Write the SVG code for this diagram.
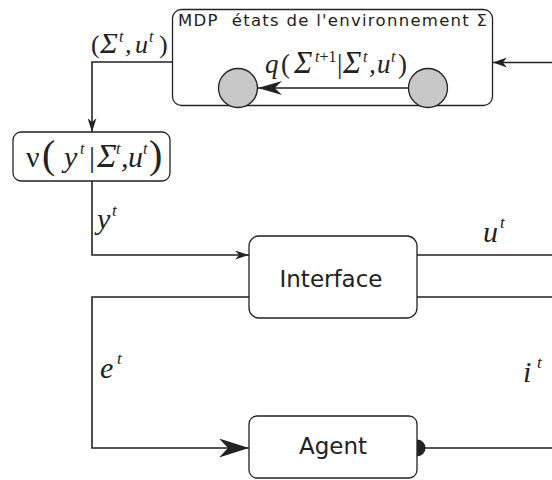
<svg xmlns="http://www.w3.org/2000/svg" width="552" height="480" viewBox="0 0 552 480">
<style>
.box{fill:#fff;stroke:#222;stroke-width:1.3}
.ln{fill:none;stroke:#222;stroke-width:1.6}
.st{fill:#c8c8c8;stroke:#222;stroke-width:1.3}
.sans{font-family:"DejaVu Sans",sans-serif;fill:#222}
.m{font-family:"Liberation Serif",serif;font-style:italic;fill:#222}
.up{font-style:normal}
.sup{font-size:16px}
</style>
<defs>
<marker id="aS" markerUnits="userSpaceOnUse" markerWidth="14" markerHeight="9" refX="10" refY="5" orient="auto" viewBox="0 0 10 10" preserveAspectRatio="none">
<path d="M10,5 L0,0 L3,5 L0,10 Z" fill="#222"/>
</marker>
<marker id="aR" markerUnits="userSpaceOnUse" markerWidth="14" markerHeight="10" refX="10" refY="5" orient="auto" viewBox="0 0 10 10" preserveAspectRatio="none">
<path d="M10,5 L0,0 L3,5 L0,10 Z" fill="#222"/>
</marker>
<marker id="aM" markerUnits="userSpaceOnUse" markerWidth="24" markerHeight="14" refX="10" refY="5" orient="auto" viewBox="0 0 10 10" preserveAspectRatio="none">
<path d="M10,5 L0,0 L3,5 L0,10 Z" fill="#222"/>
</marker>
<marker id="aL" markerUnits="userSpaceOnUse" markerWidth="30" markerHeight="19" refX="10" refY="5" orient="auto" viewBox="0 0 10 10" preserveAspectRatio="none">
<path d="M10,5 L0,0 L3,5 L0,10 Z" fill="#222"/>
</marker>
</defs>

<g id="connectors">
<path class="ln" d="M172,62 H92 V132" marker-end="url(#aS)"/>
<path class="ln" d="M92,181 V255 H249" marker-end="url(#aS)"/>
<path class="ln" d="M417,255 H552"/>
<path class="ln" d="M249,297 H92 V448 H249" marker-end="url(#aL)"/>
<path class="ln" d="M417,297 H552"/>
<path class="ln" d="M552,62.5 H493" marker-end="url(#aR)"/>
<path class="ln" d="M417,448 H552"/>
<path d="M417,439.5 A8.5,8.5 0 0 1 417,456.5 Z" fill="#222"/>
<text class="m" font-size="26"><tspan class="up" x="91" y="53">(</tspan><tspan font-size="30" x="100" y="53">Σ</tspan><tspan class="sup" x="119" y="42">t</tspan><tspan x="125" y="53">,</tspan><tspan x="135" y="53">u</tspan><tspan class="sup" x="149" y="42">t</tspan><tspan class="up" x="159" y="53">)</tspan></text>
<text class="m" font-size="30"><tspan x="97" y="229">y</tspan><tspan font-size="17" x="112" y="216">t</tspan></text>
<text class="m" font-size="30"><tspan x="483" y="242">u</tspan><tspan font-size="17" x="500" y="228">t</tspan></text>
<text class="m" font-size="30"><tspan x="100" y="378">e</tspan><tspan font-size="17" x="117" y="364">t</tspan></text>
<text class="m" font-size="30"><tspan x="523" y="382">i</tspan><tspan font-size="17" x="537" y="368">t</tspan></text>
</g>

<g id="mdp">
<rect class="box" x="172.5" y="9.5" width="320" height="96" rx="9"/>
<text class="sans" x="178" y="26" font-size="16.5" textLength="309" lengthAdjust="spacing">MDP&#160; états de l'environnement Σ</text>
<path class="ln" d="M408,88 H258" marker-end="url(#aM)"/>
<circle class="st" cx="238" cy="88" r="19.5"/>
<circle class="st" cx="428" cy="88" r="19.5"/>
<text class="m" font-size="27"><tspan x="265" y="73">q</tspan><tspan class="up" x="281" y="73">(</tspan><tspan font-size="31" x="294" y="73">Σ</tspan><tspan class="sup" x="315" y="62">t<tspan class="up">+1</tspan></tspan><tspan class="up" x="337" y="73">|</tspan><tspan font-size="31" x="343" y="73">Σ</tspan><tspan class="sup" x="363" y="62">t</tspan><tspan x="369" y="73">,</tspan><tspan x="377" y="73">u</tspan><tspan class="sup" x="391" y="62">t</tspan><tspan class="up" x="398" y="73">)</tspan></text>
</g>

<g id="nu">
<rect class="box" x="13" y="132" width="157" height="49" rx="8"/>
<text class="m" font-size="30"><tspan class="up" x="26" y="167">ν</tspan><tspan class="up" font-size="40" x="42" y="168">(</tspan><tspan x="64" y="167">y</tspan><tspan class="sup" x="80" y="154">t</tspan><tspan class="up" x="89" y="167">|</tspan><tspan font-size="33" x="97" y="167">Σ</tspan><tspan class="sup" x="116" y="154">t</tspan><tspan x="121" y="167">,</tspan><tspan x="128" y="167">u</tspan><tspan class="sup" x="143" y="154">t</tspan><tspan class="up" font-size="40" x="149" y="168">)</tspan></text>
</g>

<g id="interface">
<rect class="box" x="249" y="236" width="168" height="82" rx="10"/>
<text class="sans" x="331" y="287" font-size="23" text-anchor="middle">Interface</text>
</g>

<g id="agent">
<rect class="box" x="249" y="416" width="168" height="62" rx="8"/>
<text class="sans" x="333" y="454" font-size="23" text-anchor="middle">Agent</text>
</g>
</svg>
